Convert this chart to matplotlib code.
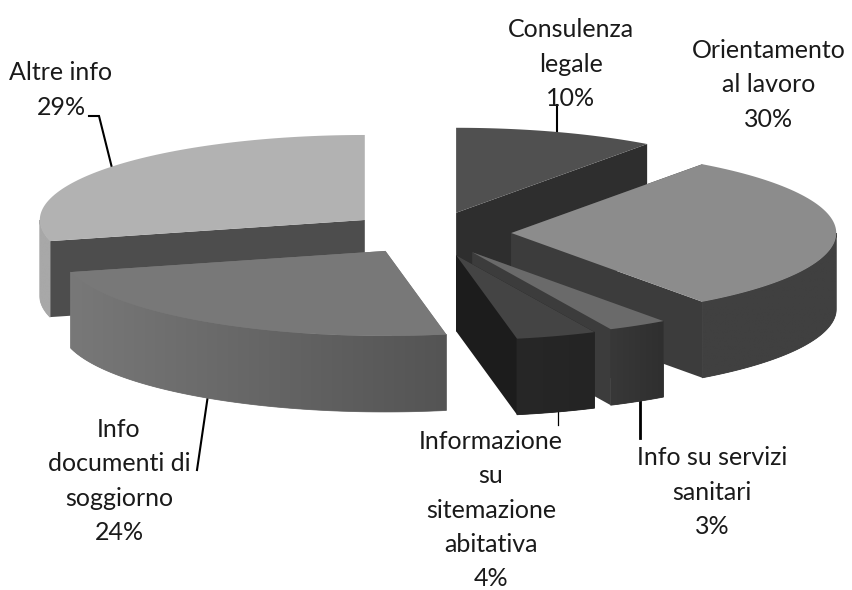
import matplotlib.pyplot as plt
import numpy as np

plt.rcParams['font.family'] = ['Lato', 'DejaVu Sans']

# clockwise from 12 o'clock
labels = ['Consulenza\nlegale\n10%', 'Orientamento\nal lavoro\n30%',
          'Info su servizi\nsanitari\n3%', 'Informazione\nsu\nsitemazione\nabitativa\n4%',
          'Info\ndocumenti di\nsoggiorno\n24%', 'Altre info\n29%']
shares = [10, 30, 3, 4, 24, 29]

# look of each slice, same order
top_grey = ['#505050', '#8c8c8c', '#6a6a6a', '#444444', '#787878', '#b2b2b2']
wall_grey = ['#2e2e2e', '#3c3c3c', '#3c3c3c', '#1c1c1c', '#787878', '#4d4d4d']
rim_left = ['#404040', '#404040', '#383838', '#272727', '#787878', '#a8a8a8']
rim_right = ['#404040', '#404040', '#2f2f2f', '#242424', '#545454', '#a8a8a8']
label_xy = [(571, 64), (769, 85), (712, 492), (491, 510), (119, 481), (61, 90)]
nudge_x = [2, 1, 2, 2, 0, 0]
nudge_y = [0, 0, 1, 2, 0, 0]

# pie geometry in pixels
cx, cy = 429, 233
rx, ry = 325, 85
depth = 76
explode = 0.25


def rim_xy(x0, y0, t):
    return x0 + rx * np.sin(t), y0 - ry * np.cos(t)


def hex_rgb(c):
    return np.array([int(c[i:i + 2], 16) for i in (1, 3, 5)]) / 255


fig = plt.figure(figsize=(8.53, 5.9), dpi=100)
ax = fig.add_axes([0, 0, 1, 1])
ax.axis('off')

# leader lines go under the pie
leaders = [([557, 557], [105, 135], 1.5), ([89, 99, 112], [116, 116, 168], 1.5),
           ([208, 197], [395, 470], 1.5), ([640, 640], [400, 438], 2),
           ([558, 558], [410, 425], 0.9)]
for xs, ys, w in leaders:
    ax.plot(xs, ys, color='black', lw=w, zorder=1, solid_joinstyle='miter')

edges = np.radians(np.cumsum([0] + shares) * 3.6)
mids = (edges[:-1] + edges[1:]) / 2

# back to front
for n, i in enumerate([5, 0, 1, 2, 3, 4]):
    z = 2 + n
    t0, t1 = edges[i], edges[i + 1]
    x0 = cx + explode * rx * np.sin(mids[i]) + nudge_x[i]
    y0 = cy - explode * ry * np.cos(mids[i]) + nudge_y[i]

    # flat cut faces
    for t in (t0, t1):
        ex, ey = rim_xy(x0, y0, t)
        ax.fill([x0, ex, ex, x0], [y0, ey, ey + depth, y0 + depth],
                color=wall_grey[i], lw=0, zorder=z)

    # outer side, only the part facing the viewer, gradient clipped to its outline
    lo, hi = max(t0, np.pi / 2), min(t1, 3 * np.pi / 2)
    if hi > lo:
        tt = np.linspace(lo, hi, 80)
        xx, yy = rim_xy(x0, y0, tt)
        outline = ax.fill(np.r_[xx, xx[::-1]], np.r_[yy, yy[::-1] + depth],
                          color=rim_left[i], lw=0.6, zorder=z)[0]
        ramp = np.linspace(0, 1, 256)[None, :, None]
        grad = hex_rgb(rim_left[i]) * (1 - ramp) + hex_rgb(rim_right[i]) * ramp
        im = ax.imshow(grad, extent=(xx.min(), xx.max(), (yy + depth).max(), yy.min()),
                       aspect='auto', zorder=z + 0.1, interpolation='bilinear')
        im.set_clip_path(outline)

    # top
    tt = np.linspace(t0, t1, 80)
    xx, yy = rim_xy(x0, y0, tt)
    ax.fill(np.r_[x0, xx], np.r_[y0, yy], color=top_grey[i], lw=0, zorder=z + 0.5)

for lab, (x, y) in zip(labels, label_xy):
    ax.text(x, y, lab, ha='center', va='center', fontsize=18, color='#1a1a1a',
            linespacing=1.6, zorder=20, clip_on=False)

ax.set_xlim(0, 853)
ax.set_ylim(590, 0)

fig.savefig('out.png', dpi=100)
